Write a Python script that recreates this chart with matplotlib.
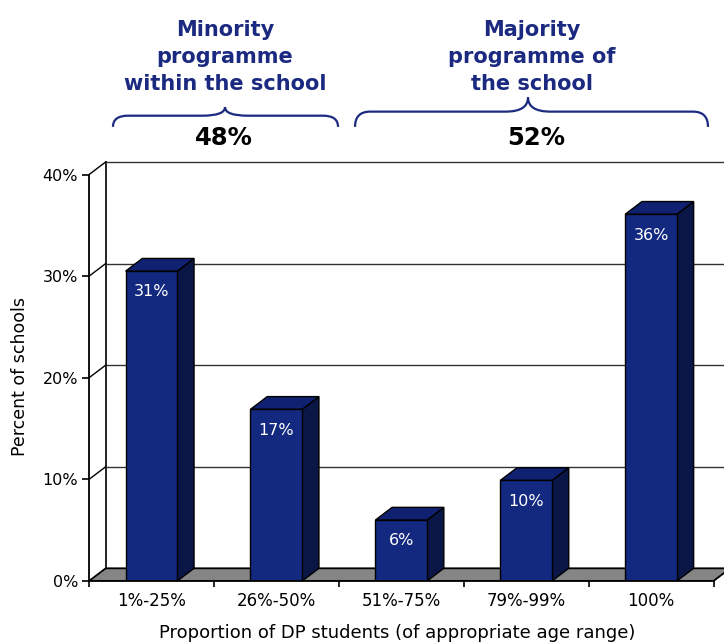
import numpy as np
import matplotlib
matplotlib.use("Agg")
import matplotlib.pyplot as plt
from matplotlib.patches import Polygon, PathPatch
from matplotlib.path import Path

# data
categories = ["1%-25%", "26%-50%", "51%-75%", "79%-99%", "100%"]
heights = [30.5, 16.9, 6.0, 9.9, 36.1]
bar_labels = ["31%", "17%", "6%", "10%", "36%"]
y_ticks = [0, 10, 20, 30, 40]
y_tick_labels = ["0%", "10%", "20%", "30%", "40%"]
group_titles = ["Minority\nprogramme\nwithin the school", "Majority\nprogramme of\nthe school"]
group_shares = ["48%", "52%"]

NAVY = "#1b2a80"
FRONT = "#13287f"
TOP = "#0f2170"
SIDE = "#0a1646"

fig = plt.figure(figsize=(7.24, 6.44), dpi=100)
ax = fig.add_axes([89 / 724, 63 / 644, 635 / 724, 426.7 / 644])
ax.set_xlim(-0.5, 4.584)
ax.set_ylim(0, 42)

# 3d depth offset (category units, percent units)
dx = 0.134
dy = 1.25
w = 0.414
x = np.arange(len(categories))

# back wall grid
ax.plot([-0.5 + dx, -0.5 + dx], [dy, 40 + dy], color="black", lw=1.2, zorder=1)
for v in y_ticks[1:]:
    ax.plot([-0.5 + dx, 4.5 + dx], [v + dy, v + dy], color="#333333", lw=1.0, zorder=1)
    ax.plot([-0.5, -0.5 + dx], [v, v + dy], color="black", lw=1.0, zorder=1, clip_on=False)

# floor
floor = Polygon([(-0.5, 0), (4.5, 0), (4.5 + dx, dy), (-0.5 + dx, dy)], closed=True,
                facecolor="#858585", edgecolor="black", lw=1.3, zorder=2)
ax.add_patch(floor)

# bars
for xi, h, lab in zip(x, heights, bar_labels):
    x0 = xi - w / 2
    x1 = xi + w / 2
    side = Polygon([(x1, 0), (x1 + dx, dy), (x1 + dx, h + dy), (x1, h)], closed=True,
                   facecolor=SIDE, edgecolor="black", lw=1.0, zorder=3)
    top = Polygon([(x0, h), (x1, h), (x1 + dx, h + dy), (x0 + dx, h + dy)], closed=True,
                  facecolor=TOP, edgecolor="black", lw=1.0, zorder=3)
    front = Polygon([(x0, 0), (x1, 0), (x1, h), (x0, h)], closed=True,
                    facecolor=FRONT, edgecolor="black", lw=1.0, zorder=4)
    for p in (side, top, front):
        ax.add_patch(p)
    ax.annotate(lab, (xi, h), xytext=(0, -15), textcoords="offset points",
                ha="center", va="center", color="white", fontsize=11.5, zorder=5)

# axes look
for s in ("top", "right"):
    ax.spines[s].set_visible(False)
ax.spines["left"].set_bounds(0, 40)
ax.spines["bottom"].set_bounds(-0.5, 4.5)
ax.spines["left"].set_linewidth(1.3)
ax.spines["bottom"].set_linewidth(1.3)
ax.spines["left"].set_zorder(6)
ax.spines["bottom"].set_zorder(6)

ax.set_yticks(y_ticks)
ax.set_yticklabels(y_tick_labels, fontsize=11.5)
ax.tick_params(axis="y", length=5, width=1.2, pad=3)

ax.set_xticks(np.arange(-0.5, 5.0, 1.0))
ax.set_xticklabels([])
ax.tick_params(axis="x", which="major", length=4.5, width=1.2)
ax.set_xticks(x, minor=True)
ax.set_xticklabels(categories, minor=True, fontsize=12)
ax.tick_params(axis="x", which="minor", length=0, pad=8)

fig.text(397 / 724, 1 - 633 / 644, "Proportion of DP students (of appropriate age range)",
         ha="center", va="center", fontsize=13)
fig.text(20 / 724, 1 - 377 / 644, "Percent of schools", rotation=90,
         ha="center", va="center", fontsize=12.5)


def brace(x0, x1, xm, y_end, y_flat, y_tip, r=0.12):
    verts = [(x0, y_end), (x0, y_flat), (x0 + r, y_flat),
             (xm - r * 1.5, y_flat),
             (xm, y_flat), (xm, y_tip),
             (xm, y_flat), (xm + r * 1.5, y_flat),
             (x1 - r, y_flat),
             (x1, y_flat), (x1, y_end)]
    codes = [Path.MOVETO, Path.CURVE3, Path.CURVE3,
             Path.LINETO,
             Path.CURVE3, Path.CURVE3,
             Path.CURVE3, Path.CURVE3,
             Path.LINETO,
             Path.CURVE3, Path.CURVE3]
    ax.add_patch(PathPatch(Path(verts, codes), facecolor="none", edgecolor=NAVY,
                           lw=1.6, clip_on=False, zorder=5))


brace(-0.308, 1.494, 0.589, 44.7, 45.8, 46.65)
brace(1.63, 4.456, 3.015, 44.7, 46.2, 47.6)

ax.text(0.589, 51.6, group_titles[0], ha="center", va="center", fontsize=15,
        fontweight="bold", color=NAVY, linespacing=1.45, clip_on=False)
ax.text(3.047, 51.6, group_titles[1], ha="center", va="center", fontsize=15,
        fontweight="bold", color=NAVY, linespacing=1.45, clip_on=False)
ax.text(0.58, 43.6, group_shares[0], ha="center", va="center", fontsize=17.5,
        fontweight="bold", color="black", clip_on=False)
ax.text(3.083, 43.6, group_shares[1], ha="center", va="center", fontsize=17.5,
        fontweight="bold", color="black", clip_on=False)

fig.savefig("out.png", dpi=100)
